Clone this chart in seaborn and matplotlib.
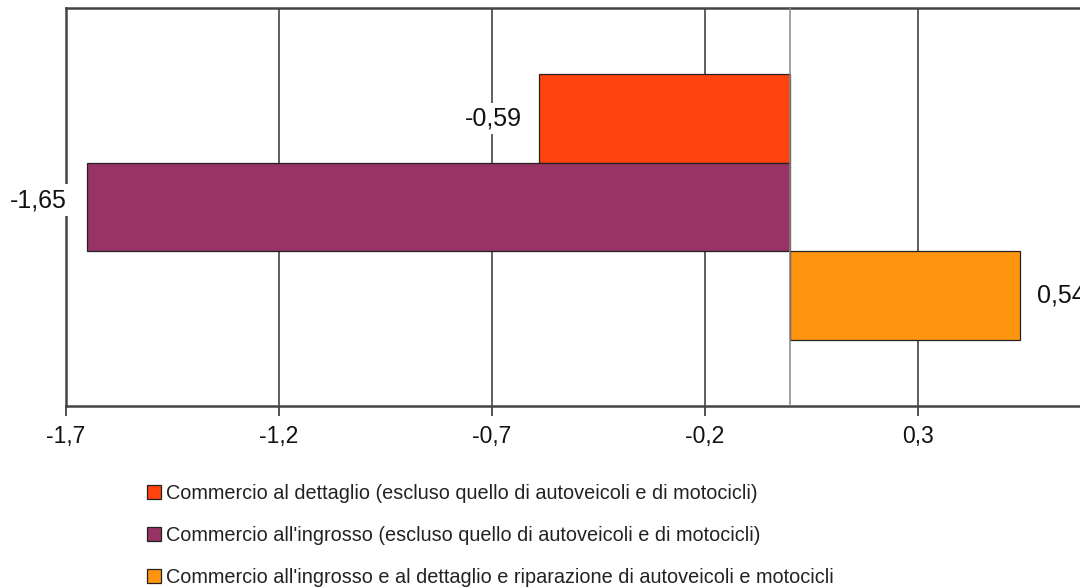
import pandas as pd
import matplotlib
matplotlib.use("Agg")
import matplotlib.pyplot as plt
import seaborn as sns
from matplotlib.patches import Patch

# data
series = [
    "Commercio al dettaglio (escluso quello di autoveicoli e di motocicli)",
    "Commercio all'ingrosso (escluso quello di autoveicoli e di motocicli)",
    "Commercio all'ingrosso e al dettaglio e riparazione di autoveicoli e motocicli",
]
values = [-0.59, -1.65, 0.54]
colors = ["#ff420e", "#993366", "#ff950e"]
xticks = [-1.7, -1.2, -0.7, -0.2, 0.3]
xticklabels = ["-1,7", "-1,2", "-0,7", "-0,2", "0,3"]

df = pd.DataFrame({"group": ["g"] * 3, "serie": series, "valore": values})

sns.set_theme(style="white")
plt.rcParams["font.family"] = ["Liberation Sans", "DejaVu Sans"]

fig = plt.figure(figsize=(10.8, 5.88), dpi=100)
ax = fig.add_axes([66 / 1080, 1 - 406 / 588, 1065 / 1080, 398 / 588])

sns.barplot(data=df, x="valore", y="group", hue="serie", palette=colors,
            orient="h", edgecolor="#222222", linewidth=0.9, legend=False,
            width=0.8, saturation=1, ax=ax, zorder=3)

ax.set_xlim(-1.7, 0.8)
ax.set_ylim(0.598, -0.598)
ax.set_xticks(xticks)
ax.set_xticklabels(xticklabels, fontsize=16.5, color="#111111")
ax.set_yticks([])
ax.set_xlabel("")
ax.set_ylabel("")
ax.tick_params(axis="x", direction="out", length=7, width=1.2, color="#333333", pad=7, bottom=True)

for x in xticks[1:]:
    ax.axvline(x, color="#333333", linewidth=1.1, zorder=1)
ax.axvline(0, color="#888888", linewidth=1.1, zorder=4)

for side in ["left", "top", "bottom"]:
    ax.spines[side].set_color("#444444")
    ax.spines[side].set_linewidth(1.8)
ax.spines["right"].set_visible(False)

# value labels (the long bar's label sits a bit further out and higher)
for bar, v in zip(ax.patches, values):
    yc = bar.get_y() + bar.get_height() / 2
    if v < -1:
        off, dy = -15, 5
    else:
        off, dy = (-12 if v < 0 else 12), 0
    ha = "right" if v < 0 else "left"
    ax.annotate(f"{v:.2f}".replace(".", ","), xy=(v, yc), xytext=(off, dy),
                textcoords="offset points", ha=ha, va="center", fontsize=18,
                color="#111111", zorder=6,
                bbox=dict(boxstyle="square,pad=0.15", fc="white", ec="none"),
                annotation_clip=False)

handles = [Patch(facecolor=c, edgecolor="#222222", linewidth=0.9) for c in colors]
fig.legend(handles, series, loc="upper left", bbox_to_anchor=(147 / 1080, 1 - 484 / 588),
           frameon=False, fontsize=14.3, handlelength=0.7, handleheight=0.7,
           handletextpad=0.25, labelspacing=1.16, borderaxespad=0, borderpad=0,
           labelcolor="#222222")

fig.savefig("out.png", dpi=100)
